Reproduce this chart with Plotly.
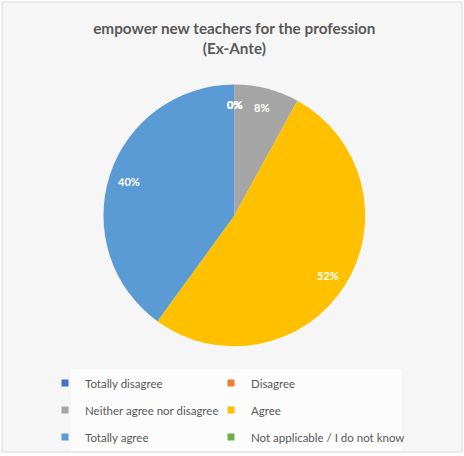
import math
import plotly.graph_objects as go

# survey answers (ex-ante), respondents per category
categories = ["Totally disagree", "Disagree", "Neither agree nor disagree",
              "Agree", "Totally agree", "Not applicable / I do not know"]
counts = [0, 0, 2, 13, 10, 0]
colors = ["#4472C4", "#ED7D31", "#A5A5A5", "#FFC000", "#5B9BD5", "#70AD47"]

W, H = 464, 456
pie_x = [0.223, 0.787]
pie_y = [0.240, 0.815]

fig = go.Figure()

fig.add_trace(go.Pie(
    labels=categories,
    values=counts,
    sort=False,
    direction="clockwise",
    rotation=0,
    marker=dict(colors=colors),
    textinfo="none",
    domain=dict(x=pie_x, y=pie_y),
    showlegend=False,
    hoverinfo="label+percent",
))

# percentage labels near the outer edge of each slice (Excel style),
# zero slices all end up at 12 o'clock like in the original
total = sum(counts)
cx, cy = sum(pie_x) / 2, sum(pie_y) / 2
radius = min((pie_x[1] - pie_x[0]) * W, (pie_y[1] - pie_y[0]) * H) / 2
label_r = 0.85 * radius
start = 0
for c in counts:
    mid = (start + c / 2) / total * 2 * math.pi
    start += c
    fig.add_annotation(
        text="<b>%d%%</b>" % round(100 * c / total),
        xref="paper", yref="paper",
        x=cx + label_r * math.sin(mid) / W,
        y=cy + label_r * math.cos(mid) / H,
        xanchor="center", yanchor="middle",
        showarrow=False,
        font=dict(family="Lato", size=11, color="white"),
    )

# legend laid out as in the original: 2 columns x 3 rows, one small legend per entry
col_x = [45, 211]
row_y = [383, 410, 437]
legend_style = dict(
    orientation="h", xanchor="left", yanchor="middle",
    font=dict(family="Lato", size=11.5, color="#595959"),
    bgcolor="rgba(0,0,0,0)", itemclick=False, itemdoubleclick=False,
)
legends = {}
for i, (name, col) in enumerate(zip(categories, colors)):
    lid = "legend" if i == 0 else "legend%d" % (i + 1)
    legends[lid] = dict(legend_style, x=col_x[i % 2] / W, y=1 - row_y[i // 2] / H)
    fig.add_trace(go.Scatter(
        x=[None], y=[None], mode="markers", name=name,
        marker=dict(symbol="square", size=7, color=col),
        legend=lid, hoverinfo="skip",
    ))

fig.update_layout(
    width=W, height=H,
    margin=dict(l=0, r=0, t=0, b=0),
    paper_bgcolor="white",
    plot_bgcolor="rgba(0,0,0,0)",
    xaxis=dict(visible=False),
    yaxis=dict(visible=False),
    title=dict(
        text="<b>empower new teachers for the profession<br>(Ex-Ante)</b>",
        x=0.505, xanchor="center", y=0.925, yanchor="top",
        font=dict(family="Lato", size=15.3, color="#595959"),
    ),
    **legends,
)

# chart area and legend area backgrounds
fig.add_shape(type="rect", xref="paper", yref="paper", layer="below",
              x0=2 / W, y0=1 - 452 / H, x1=462 / W, y1=1 - 2 / H,
              fillcolor="#f6f6f6", line=dict(color="#d9d9d9", width=1))
fig.add_shape(type="rect", xref="paper", yref="paper", layer="below",
              x0=71 / W, y0=1 - 451 / H, x1=402 / W, y1=1 - 369 / H,
              fillcolor="#fcfcfc", line=dict(width=0))

# drop the default page margin so the figure sits at the window's corner
fig.write_html("out.html", config={"displayModeBar": False},
               post_script="document.body.style.margin='0';")
